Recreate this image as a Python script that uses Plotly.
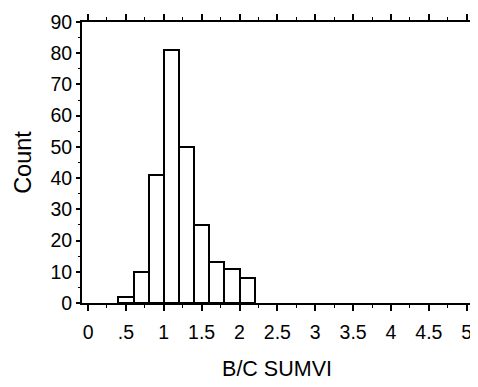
import plotly.graph_objects as go

# Histogram bins (left edges) and counts
bin_starts = [0.4, 0.6, 0.8, 1.0, 1.2, 1.4, 1.6, 1.8, 2.0]
counts = [2, 10, 41, 81, 50, 25, 13, 11, 8]
bin_width = 0.2

x_tick_vals = [0, 0.5, 1, 1.5, 2, 2.5, 3, 3.5, 4, 4.5, 5]
x_tick_text = ["0", ".5", "1", "1.5", "2", "2.5", "3", "3.5", "4", "4.5", "5"]
y_tick_vals = [0, 10, 20, 30, 40, 50, 60, 70, 80, 90]

x_label = "B/C SUMVI"
y_label = "Count"

centers = [s + bin_width / 2 for s in bin_starts]

fig = go.Figure(
    go.Bar(
        x=centers,
        y=counts,
        width=bin_width,
        marker=dict(color="white", line=dict(color="black", width=2)),
    )
)

font = dict(family="Liberation Sans, Arial, sans-serif", color="black")

# the page body adds an 8px offset, so the figure is 8px smaller than the window
fig.update_layout(
    width=470,
    height=379,
    margin=dict(l=74, r=6, t=14, b=84),
    plot_bgcolor="white",
    paper_bgcolor="white",
    showlegend=False,
    font=font,
    bargap=0,
)
fig.update_xaxes(
    range=[-0.08, 5.07],
    automargin=False,
    tickmode="array",
    tickvals=x_tick_vals,
    ticktext=x_tick_text,
    tickfont=dict(size=19.5),
    ticks="outside",
    ticklen=6,
    tickwidth=2,
    tickcolor="black",
    ticklabelstandoff=5,
    minor=dict(dtick=0.25, tick0=0, ticks="outside", ticklen=3, tickcolor="black", tickwidth=1),
    showline=True,
    linecolor="black",
    linewidth=2,
    mirror="ticks",
    showgrid=False,
    zeroline=False,
    title=dict(text=x_label, font=dict(size=21.5), standoff=19),
)
fig.update_yaxes(
    range=[0, 90],
    automargin=False,
    tickmode="array",
    tickvals=y_tick_vals,
    tickfont=dict(size=19.5),
    ticks="outside",
    ticklen=4,
    tickwidth=2,
    tickcolor="black",
    minor=dict(dtick=5, tick0=0, ticks="outside", ticklen=2, tickcolor="black", tickwidth=1),
    showline=True,
    linecolor="black",
    linewidth=2,
    mirror="ticks",
    showgrid=False,
    zeroline=False,
    title=dict(text=y_label, font=dict(size=23.5), standoff=12),
)

fig.write_html("out.html")
